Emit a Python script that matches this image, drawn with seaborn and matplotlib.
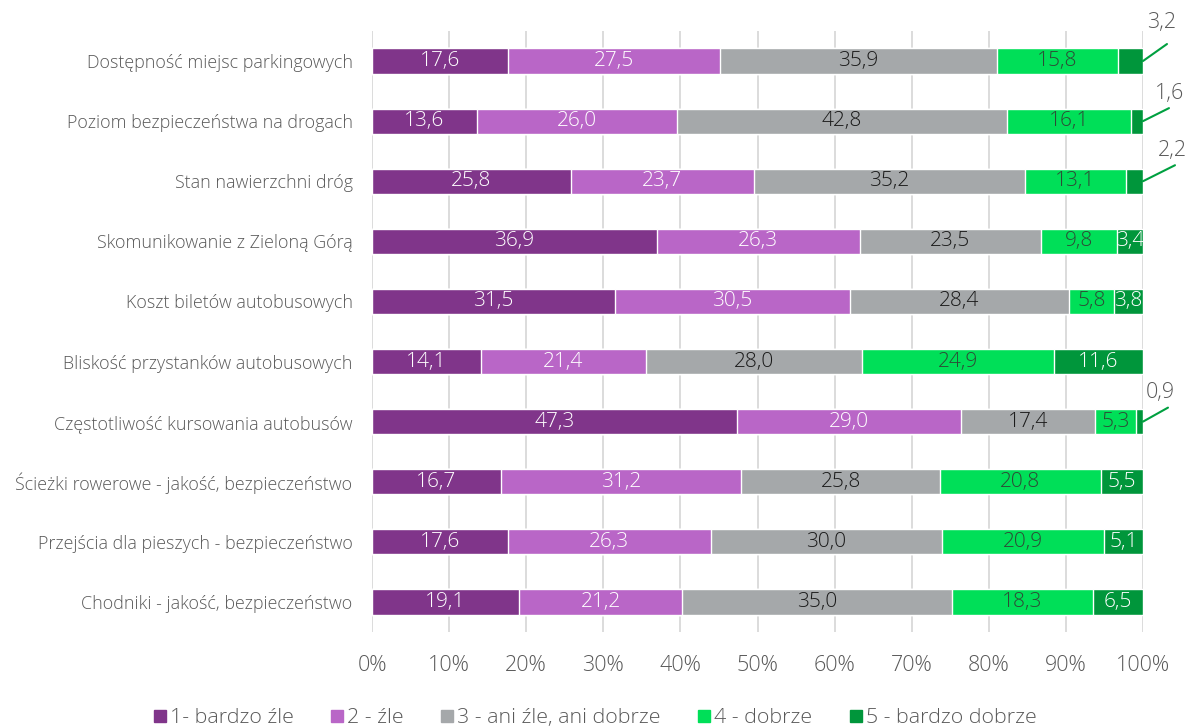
import numpy as np
import pandas as pd
import matplotlib
matplotlib.use("Agg")
import matplotlib.pyplot as plt
import seaborn as sns

categories = [
    "Dostępność miejsc parkingowych",
    "Poziom bezpieczeństwa na drogach",
    "Stan nawierzchni dróg",
    "Skomunikowanie z Zieloną Górą",
    "Koszt biletów autobusowych",
    "Bliskość przystanków autobusowych",
    "Częstotliwość kursowania autobusów",
    "Ścieżki rowerowe - jakość, bezpieczeństwo",
    "Przejścia dla pieszych - bezpieczeństwo",
    "Chodniki - jakość, bezpieczeństwo",
]
series_names = ["1- bardzo źle", "2 - źle", "3 - ani źle, ani dobrze", "4 - dobrze", "5 - bardzo dobrze"]
s1 = [17.6, 13.6, 25.8, 36.9, 31.5, 14.1, 47.3, 16.7, 17.6, 19.1]
s2 = [27.5, 26.0, 23.7, 26.3, 30.5, 21.4, 29.0, 31.2, 26.3, 21.2]
s3 = [35.9, 42.8, 35.2, 23.5, 28.4, 28.0, 17.4, 25.8, 30.0, 35.0]
s4 = [15.8, 16.1, 13.1, 9.8, 5.8, 24.9, 5.3, 20.8, 20.9, 18.3]
s5 = [3.2, 1.6, 2.2, 3.4, 3.8, 11.6, 0.9, 5.5, 5.1, 6.5]
x_ticks = [0, 10, 20, 30, 40, 50, 60, 70, 80, 90, 100]

colors = ["#80358A", "#B966C7", "#A5A8AA", "#00DF58", "#00963B"]
text_colors = ["white", "white", "#1A1A1A", "#2E4A36", "white"]
callout_color = "#00A040"

sns.set_theme(style="white")
plt.rcParams["font.family"] = ["Open Sans", "DejaVu Sans"]
plt.rcParams["font.weight"] = "light"

values = np.array([s1, s2, s3, s4, s5], dtype=float)
# 100% stacked: each row is scaled to its own total
shares = values / values.sum(axis=0) * 100
cum = np.cumsum(shares, axis=0)

df = pd.DataFrame({"category": categories})
for k in range(5):
    df[f"cum{k}"] = cum[k]

fig = plt.figure(figsize=(11.89, 7.27), dpi=100)
ax = fig.add_axes([0.3129, 0.1307, 0.6484, 0.8267])

# draw cumulative layers from the right so shorter ones sit on top
for k in range(4, -1, -1):
    sns.barplot(data=df, x=f"cum{k}", y="category", orient="h", color=colors[k],
                saturation=1, width=0.42, ax=ax, zorder=3)

ax.set_xlim(0, 100)
ax.set_ylim(len(categories) - 0.5, -0.5)
ax.set_xticks(x_ticks)
ax.set_xticklabels([f"{t}%" for t in x_ticks])
ax.grid(axis="x", color="#D9D9D9", lw=1.3, zorder=0)
ax.grid(axis="y", visible=False)
for sp in ax.spines.values():
    sp.set_visible(False)
ax.set_xlabel("")
ax.set_ylabel("")
ax.tick_params(axis="x", labelsize=15.5, colors="#595959", pad=16.5, length=0)
ax.tick_params(axis="y", labelsize=12.9, colors="#595959", pad=14, length=0)

# segment labels; the thinnest end segments get a leader line instead
callouts = {0: ((24, 17), (19, 39)), 1: ((26, 13), (27, 28)),
            2: ((32, 16), (29, 31)), 6: ((25, 14), (17, 29))}
for i in range(len(categories)):
    left = 0.0
    for k in range(5):
        w = shares[k, i]
        label = f"{values[k, i]:.1f}".replace(".", ",")
        if k == 4 and i in callouts:
            line_off, text_off = callouts[i]
            ax.annotate("", xy=(100, i), xytext=line_off, textcoords="offset pixels",
                        arrowprops=dict(arrowstyle="-", color=callout_color, lw=1.5,
                                        shrinkA=0, shrinkB=0), zorder=5)
            ax.annotate(label, xy=(100, i), xytext=text_off, textcoords="offset pixels",
                        ha="center", va="center", fontsize=15.5, color="#595959")
        else:
            ax.text(left + w / 2, i, label, ha="center", va="center",
                    fontsize=15, color=text_colors[k], zorder=6)
        left += w

handles = [plt.Line2D([], [], marker="s", ls="", markersize=9, color=c) for c in colors]
fig.legend(handles, series_names, loc="lower center", bbox_to_anchor=(0.5, -0.028),
           ncol=5, frameon=False, fontsize=15.4, handletextpad=0.1, columnspacing=1.7,
           labelcolor="#595959", handlelength=0.7)

fig.savefig("out.png", dpi=100)
